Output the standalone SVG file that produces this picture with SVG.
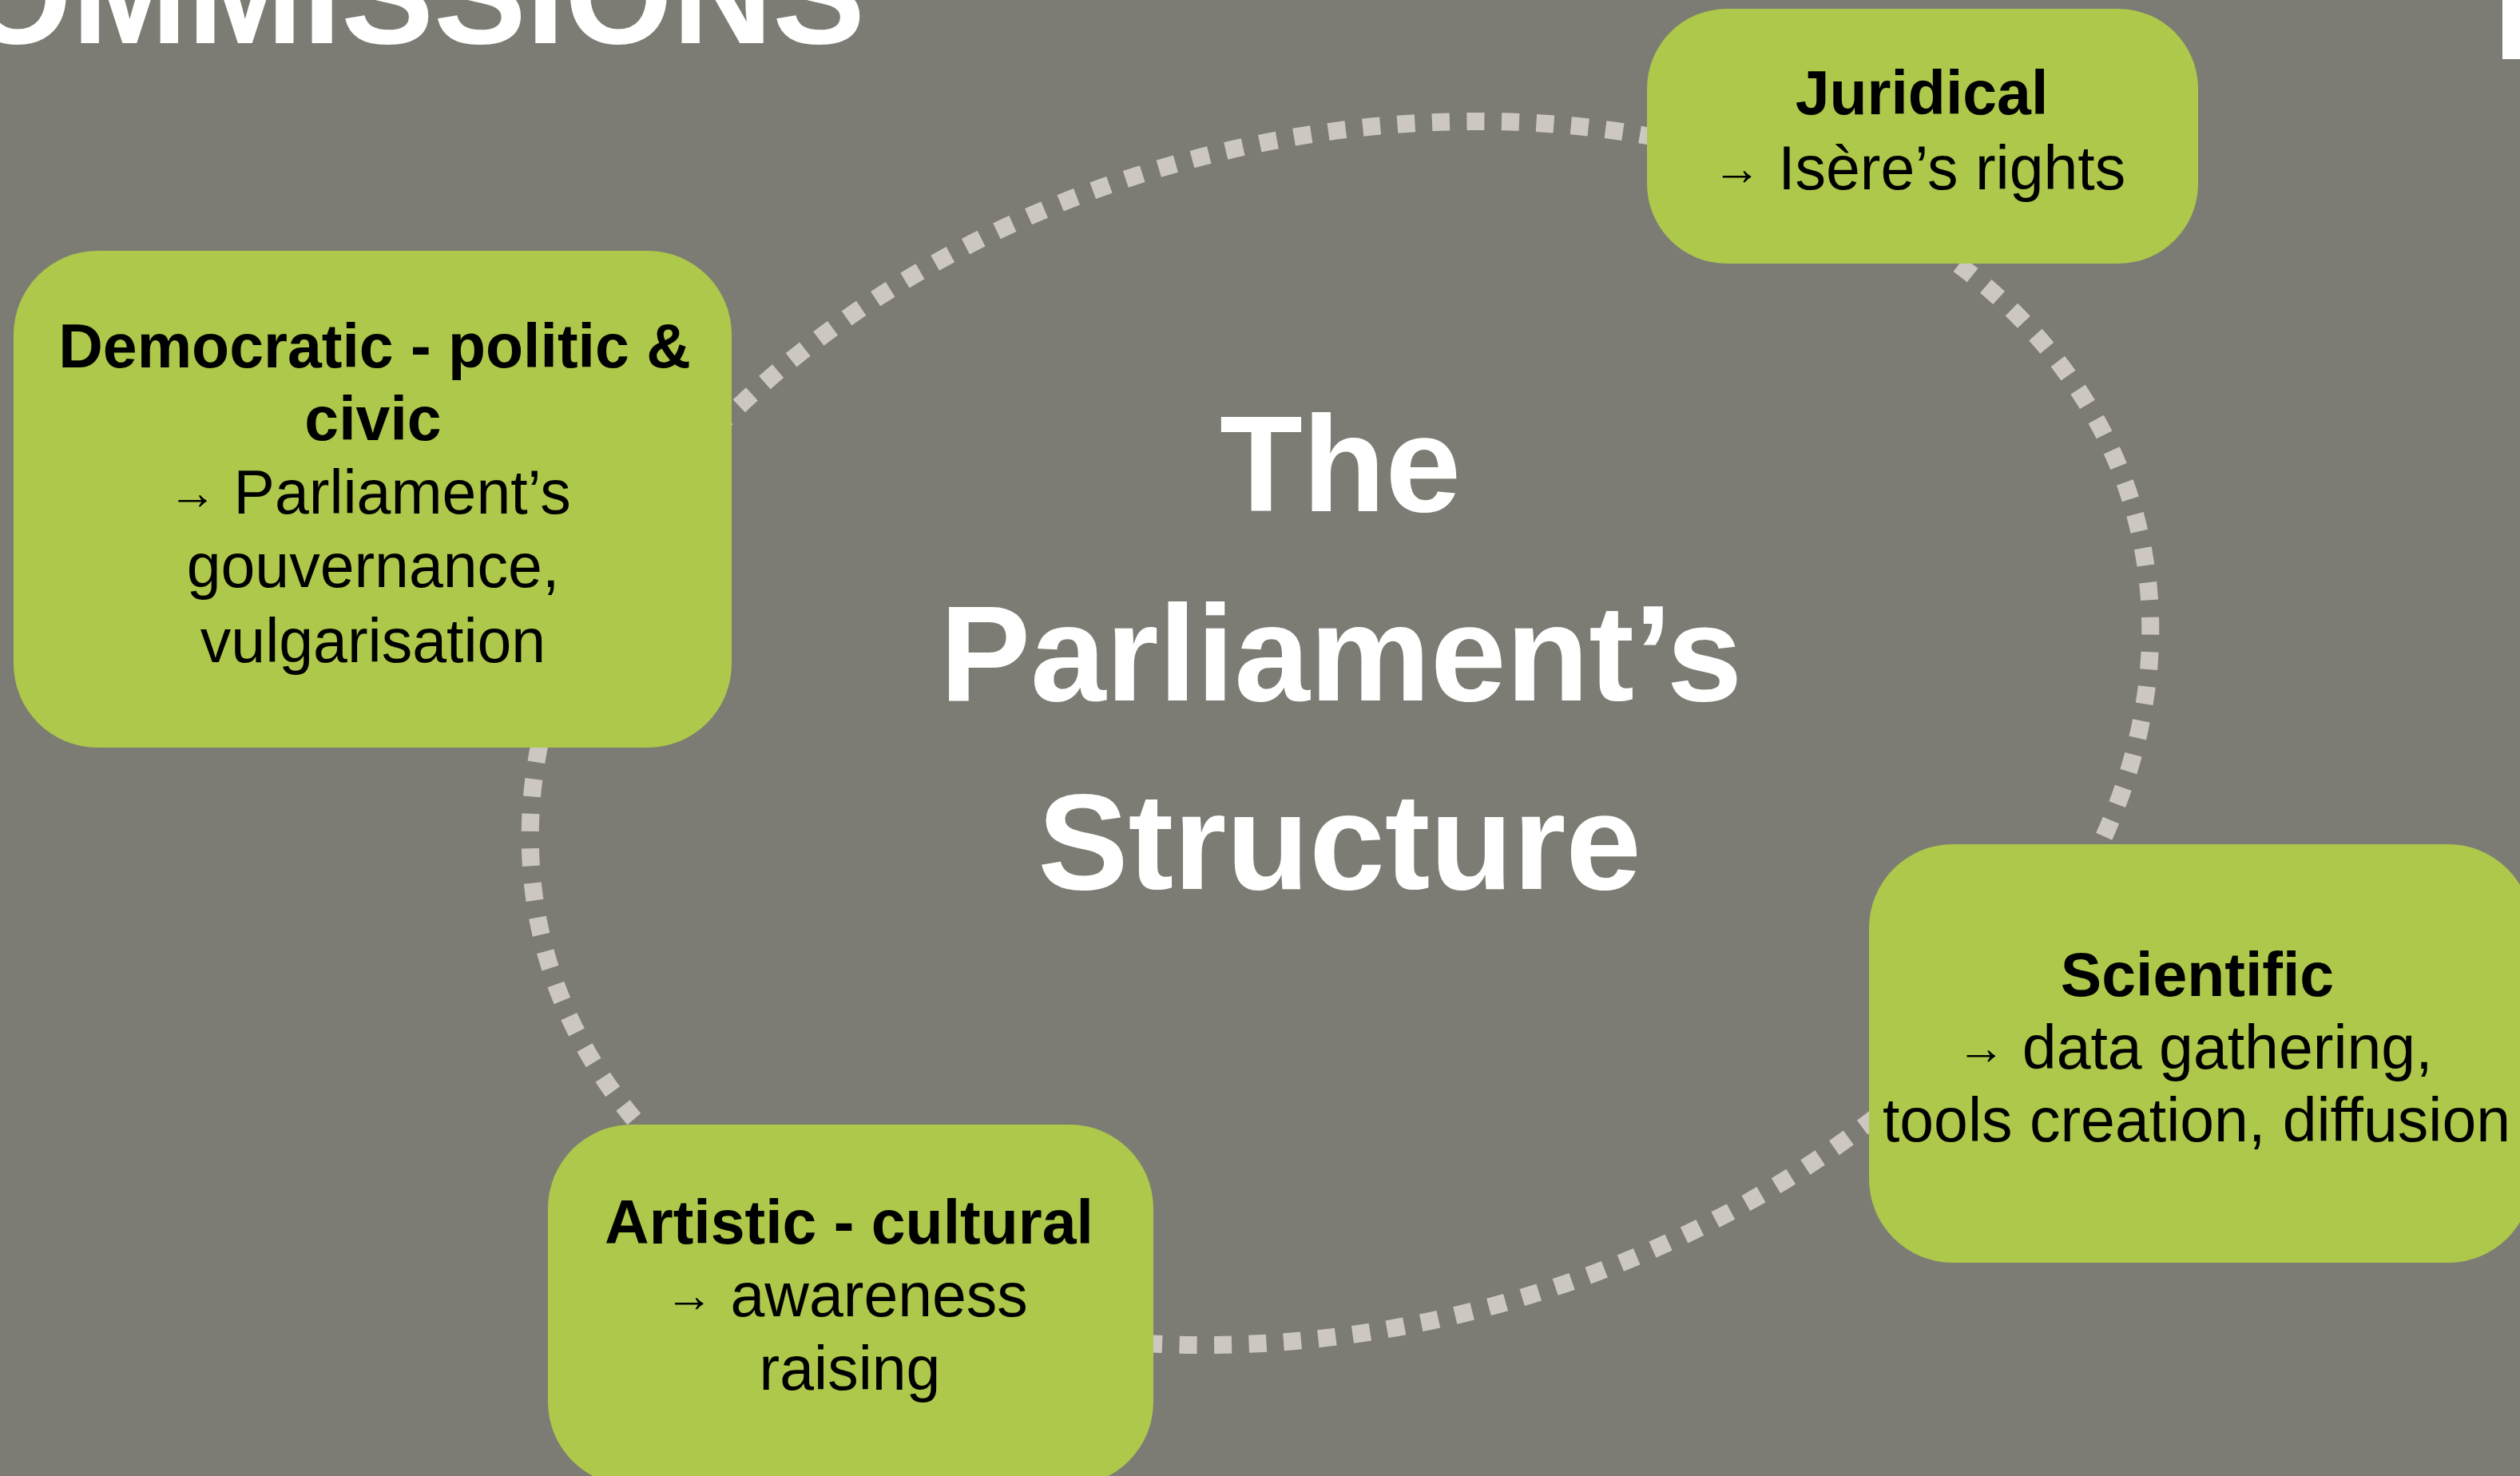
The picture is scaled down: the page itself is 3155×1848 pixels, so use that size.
<svg xmlns="http://www.w3.org/2000/svg" width="3155" height="1848" viewBox="0 0 3155 1848">
  <defs>
    <style>
      .bg { fill: #7d7c74; }
      .node { fill: #adc84a; }
      .ring { fill: none; stroke: #cdc7c2; stroke-width: 22; stroke-dasharray: 22 21.5; }
      .t { font-family: "Liberation Sans", Arial, Helvetica, sans-serif; font-size: 77px; fill: #000; text-anchor: middle; }
      .b { font-weight: bold; }
      .arr { font-size: 60px; }
      .title { font-family: "Liberation Sans", Arial, Helvetica, sans-serif; font-size: 170px; font-weight: bold; fill: #fff; text-anchor: middle; }
      .head { font-family: "Liberation Sans", Arial, Helvetica, sans-serif; font-size: 172px; font-weight: bold; fill: #fff; }
    </style>
  </defs>
  <rect class="bg" x="0" y="0" width="3155" height="1848"/>

  <g id="header">
    <text class="head" x="-45" y="54" textLength="1128" lengthAdjust="spacingAndGlyphs">OMMISSIONS</text>
    <rect x="3133" y="0" width="22" height="74" fill="#ffffff"/>
  </g>

  <g id="connectors">
    <ellipse class="ring" cx="1678" cy="918" rx="1032" ry="742" transform="rotate(-15.4 1678 918)"/>
  </g>

  <g id="title">
    <text class="title" x="1678" y="640">The</text>
    <text class="title" x="1679" y="877">Parliament’s</text>
    <text class="title" x="1677" y="1113">Structure</text>
  </g>

  <g id="node-juridical">
    <rect class="node" x="2062" y="11" width="690" height="319" rx="100" ry="100"/>
    <text class="t b" x="2406" y="143">Juridical</text>
    <text class="t" x="2403" y="237"><tspan class="arr" dy="-6">→</tspan><tspan dy="6"> Isère’s rights</tspan></text>
  </g>

  <g id="node-democratic">
    <rect class="node" x="17" y="314" width="899" height="622" rx="105" ry="105"/>
    <text class="t b" x="469" y="460">Democratic - politic &amp;</text>
    <text class="t b" x="467" y="551">civic</text>
    <text class="t" x="463" y="643"><tspan class="arr" dy="-6">→</tspan><tspan dy="6"> Parliament’s</tspan></text>
    <text class="t" x="467" y="735">gouvernance,</text>
    <text class="t" x="467" y="829">vulgarisation</text>
  </g>

  <g id="node-scientific">
    <rect class="node" x="2340" y="1057" width="830" height="524" rx="105" ry="105"/>
    <text class="t b" x="2751" y="1247">Scientific</text>
    <text class="t" x="2748" y="1338"><tspan class="arr" dy="-6">→</tspan><tspan dy="6"> data gathering,</tspan></text>
    <text class="t" x="2750" y="1429">tools creation, diffusion</text>
  </g>

  <g id="node-artistic">
    <rect class="node" x="686" y="1408" width="758" height="452" rx="105" ry="105"/>
    <text class="t b" x="1063" y="1557">Artistic - cultural</text>
    <text class="t" x="1060" y="1648"><tspan class="arr" dy="-6">→</tspan><tspan dy="6"> awareness</tspan></text>
    <text class="t" x="1064" y="1740">raising</text>
  </g>
</svg>
